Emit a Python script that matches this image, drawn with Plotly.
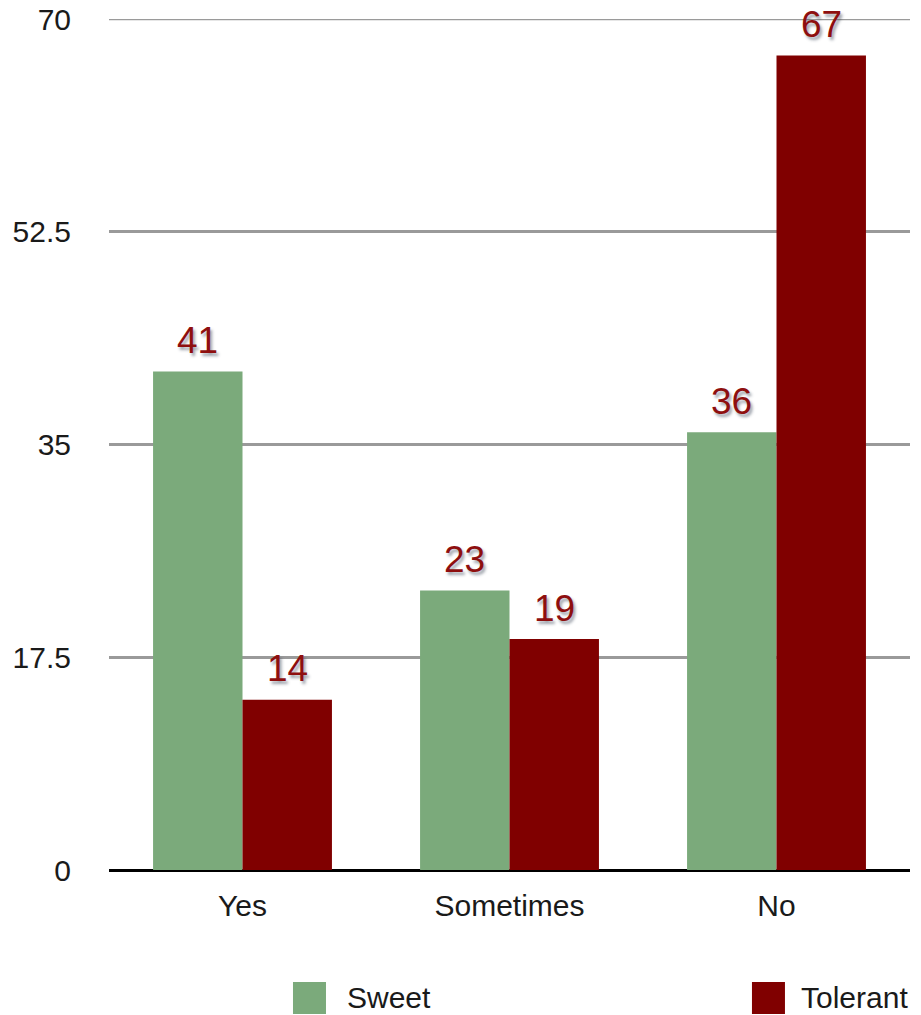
import plotly.graph_objects as go

categories = ["Yes", "Sometimes", "No"]
sweet = [41, 23, 36]
tolerant = [14, 19, 67]
series_names = ["Sweet", "Tolerant"]
tick_vals = [0, 17.5, 35, 52.5, 70]
tick_text = ["0", "17.5", "35", "52.5", "70"]

green = "#7BAA7B"
red = "#800000"
label_color = "#8E0F0F"
text_color = "#1A1A1A"
font_family = "Liberation Sans, Arial, sans-serif"

plot_w = 921 - 109 - 11
bargap = 0.33
bar_px = plot_w / len(categories) * (1 - bargap) / 2

fig = go.Figure()
series = [(series_names[0], sweet, green), (series_names[1], tolerant, red)]
for i, (name, vals, col) in enumerate(series):
    fig.add_trace(go.Bar(
        x=categories, y=vals, name=name, marker=dict(color=col, line=dict(width=0)),
        showlegend=False,
    ))
    shift = (i - 0.5) * bar_px
    for c, v in zip(categories, vals):
        fig.add_annotation(
            x=c, y=v, xref="x", yref="y", text=str(v), showarrow=False,
            xanchor="center", yanchor="middle", xshift=shift, yshift=31,
            font=dict(size=37, color=label_color, family=font_family,
                      shadow="2px 3px 3px rgba(40,50,70,0.45)"),
        )

# top gridline at the range edge
fig.add_shape(type="line", xref="paper", yref="y", x0=0, x1=1, y0=70, y1=70,
              line=dict(color="#9A9A9A", width=2.5), layer="below")

# legend drawn manually (large swatches)
legend_x = [0.2297, 0.8027]
legend_tx = [0.295, 0.862]
for nm, col, lx, tx in zip(series_names, [green, red], legend_x, legend_tx):
    fig.add_shape(type="rect", xref="paper", yref="paper",
                  x0=lx, x1=lx + 0.0412, y0=-0.1692, y1=-0.1316,
                  fillcolor=col, line=dict(width=0))
    fig.add_annotation(xref="paper", yref="paper", x=tx, y=-0.1504,
                       text=nm, showarrow=False, xanchor="left", yanchor="middle",
                       font=dict(size=30, color=text_color, family=font_family))

fig.update_layout(
    width=921, height=1015,
    margin=dict(l=109, r=11, t=19, b=145, autoexpand=False),
    paper_bgcolor="white", plot_bgcolor="white",
    barmode="group", bargap=bargap, bargroupgap=0,
    font=dict(family=font_family, size=30, color=text_color),
)
fig.update_xaxes(showgrid=False, ticks="", showline=False,
                 tickfont=dict(size=30, color=text_color), ticklabelstandoff=15)
fig.update_yaxes(range=[0, 70], tickvals=tick_vals, ticktext=tick_text,
                 showgrid=True, gridcolor="#9A9A9A", gridwidth=2.5,
                 zeroline=True, zerolinecolor="#000000", zerolinewidth=3,
                 showline=False, ticks="", ticklabelstandoff=37,
                 tickfont=dict(size=30, color=text_color))
fig.write_html("out.html")
